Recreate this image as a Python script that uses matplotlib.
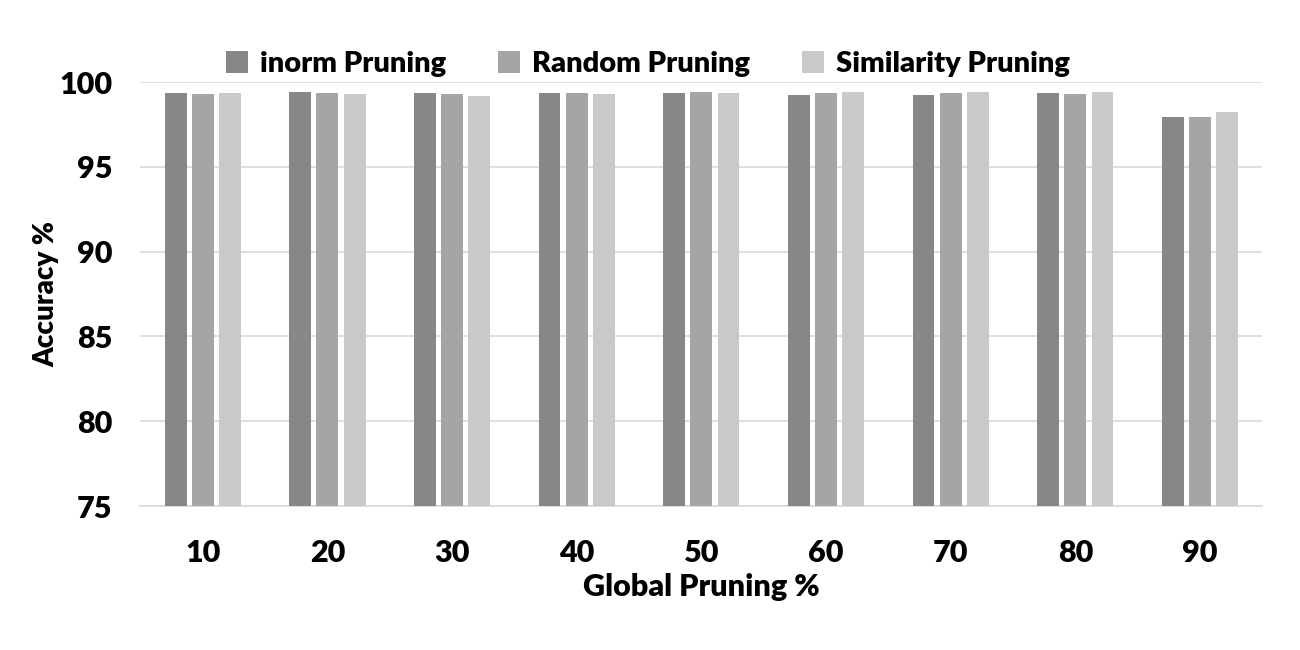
import numpy as np
import matplotlib.pyplot as plt

plt.rcParams['font.family'] = ['Lato', 'DejaVu Sans']
plt.rcParams['font.weight'] = 'heavy'

# data
pruning = ['10', '20', '30', '40', '50', '60', '70', '80', '90']
inorm = [99.37, 99.43, 99.33, 99.33, 99.37, 99.23, 99.25, 99.37, 97.95]
random_p = [99.27, 99.33, 99.27, 99.37, 99.39, 99.35, 99.33, 99.29, 97.95]
similarity = [99.33, 99.27, 99.17, 99.27, 99.35, 99.41, 99.43, 99.41, 98.25]

fig = plt.figure(figsize=(13, 6.5), dpi=100)
ax = fig.add_axes([0.108, 0.2215, 0.863, 0.6523])

x = np.arange(len(pruning))
w = 0.176
step = 0.218
ax.bar(x - step, inorm, w, color='#878787', label='inorm Pruning', zorder=3)
ax.bar(x, random_p, w, color='#a5a5a5', label='Random Pruning', zorder=3)
ax.bar(x + step, similarity, w, color='#c9c9c9', label='Similarity Pruning', zorder=3)

ax.set_xlim(-0.5, len(pruning) - 0.5)
ax.set_ylim(75, 100)
ax.set_yticks([75, 80, 85, 90, 95, 100])
ax.set_xticks(x)
ax.set_xticklabels(pruning)
ax.tick_params(length=0, labelsize=22)
ax.tick_params(axis='x', pad=24)
ax.tick_params(axis='y', pad=20)
ax.grid(axis='y', color='#d9d9d9', linewidth=1.2, zorder=0)
for s in ['top', 'left', 'right']:
    ax.spines[s].set_visible(False)
ax.spines['bottom'].set_color('#d9d9d9')
ax.spines['bottom'].set_linewidth(1.2)

ax.set_xlabel('Global Pruning %', fontsize=22, fontweight='heavy', labelpad=4)
ax.set_ylabel('Accuracy %', fontsize=20, fontweight='heavy', labelpad=0)

fig.legend(loc='center', bbox_to_anchor=(648 / 1300, 1 - 64 / 650), ncol=3,
           frameon=False, fontsize=21, handlelength=0.75, handleheight=0.75,
           handletextpad=0.4, columnspacing=1.8)

plt.savefig('out.png', dpi=100)
